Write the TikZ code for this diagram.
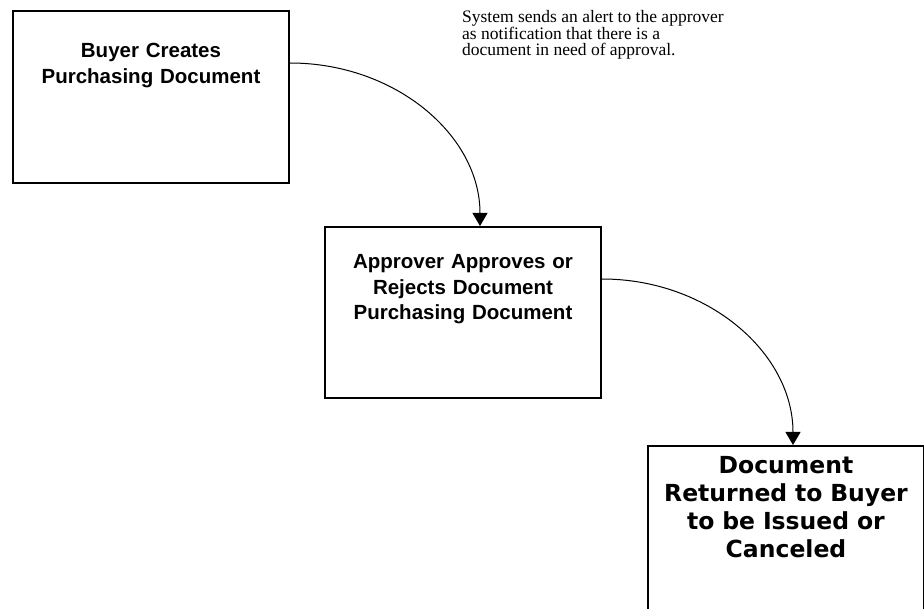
\documentclass[tikz,border=0pt]{standalone}
\usepackage{fontspec}
\usepackage{tikz}
\usetikzlibrary{positioning,arrows.meta}

\newfontfamily\boxfont{Liberation Sans}
\newfontfamily\bigboxfont{DejaVu Sans}
\newfontfamily\notefont{Liberation Serif}

\tikzset{
  stepbox/.style={draw, line width=2pt, inner sep=0pt, text width=276pt,
    align=center, font=\boxfont\bfseries\fontsize{20.5}{25.5}\selectfont},
  bigbox/.style={stepbox, font=\bigboxfont\bfseries\fontsize{23.5}{27.7}\selectfont},
  notetext/.style={inner sep=0pt, align=left,
    font=\notefont\fontsize{17.5}{16}\selectfont},
}

\begin{document}
\begin{tikzpicture}[x=1pt, y=-1pt, >={Triangle[width=15pt,length=13pt]}] % one box per step
\useasboundingbox[fill=white] (0,0) rectangle (924,609);

\node[stepbox, text height=47pt, text depth=125pt, anchor=north west] (buyer) at (12,10)
  {Buyer Creates\\Purchasing Document};
\node[stepbox, text height=42pt, text depth=129pt, below right=42pt and 34pt of buyer] (approver)
  {Approver Approves or\\Rejects Document\\Purchasing Document};
\node[bigbox, text height=28pt, text depth=200pt, below right=46pt and 45pt of approver] (returned)
  {Document\\Returned to Buyer\\to be Issued or\\Canceled};

\node[notetext, anchor=north west] (note) at (462,10)
  {System sends an alert to the approver\\as notification that there is a\\document in need of approval.};

\draw[->, line width=1pt] ([yshift=34pt]buyer.east) .. controls +(105,0) and +(0,-91) .. ([xshift=17pt]approver.north);
\draw[->, line width=1pt] ([yshift=33.5pt]approver.east) .. controls +(106,0) and +(0,-92) .. ([xshift=7pt]returned.north);

\end{tikzpicture}
\end{document}
